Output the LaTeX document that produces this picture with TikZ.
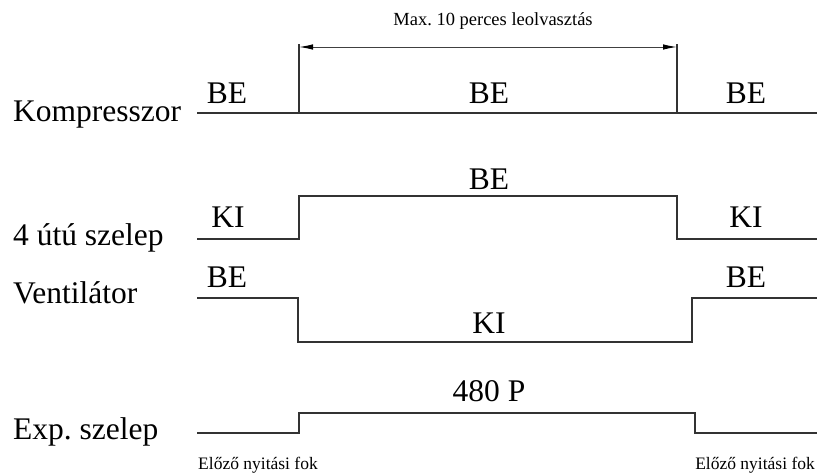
\documentclass[tikz,border=0pt]{standalone}
\usepackage{fontspec}
\setmainfont{Liberation Serif}
\usetikzlibrary{arrows.meta}
\frenchspacing
\begin{document}
\begin{tikzpicture}[x=1pt,y=-1pt,
  sig/.style={line width=1.1pt,black!80},
  lbl/.style={font=\fontsize{31.5}{32}\selectfont,inner sep=0pt,anchor=base},
  sml/.style={font=\fontsize{17.5}{18}\selectfont,inner sep=0pt,anchor=base}]
\useasboundingbox (0,0) rectangle (826,474);

\node[sml,font=\fontsize{18.5}{19}\selectfont] (max) at (493,25) {Max. 10 perces leolvasztás};
\coordinate (dl) at (299,47);
\coordinate (dr) at (677,47);
\draw[line width=1pt,black!75,{Latex[length=14pt,width=5.5pt,black]}-{Latex[length=14pt,width=5.5pt,black]}] (dl) -- (dr);

% Kompresszor
\node[lbl,anchor=base west] (komp) at (13,121) {Kompresszor};
\draw[sig] (197,113) -- (817,113);
\draw[sig] (299,44) -- (299,113);
\draw[sig] (677,44) -- (677,113);
\node[lbl] (k1) at (227,103) {BE};
\node[lbl] (k2) at (489,103) {BE};
\node[lbl] (k3) at (746,103) {BE};

% 4 utu szelep
\node[lbl,anchor=base west] (szel) at (13,245) {4 útú szelep};
\draw[sig] (197,239) -- (299,239) -- (299,196) -- (677,196) -- (677,239) -- (817,239);
\node[lbl] (s1) at (228,227) {KI};
\node[lbl] (s2) at (489,189) {BE};
\node[lbl] (s3) at (746,227) {KI};

% Ventilator
\node[lbl,anchor=base west] (vent) at (13,303) {Ventilátor};
\draw[sig] (197,298) -- (298,298) -- (298,342) -- (692,342) -- (692,298) -- (817,298);
\node[lbl] (v1) at (227,287) {BE};
\node[lbl] (v2) at (489,333) {KI};
\node[lbl] (v3) at (746,287) {BE};

% Exp. szelep
\node[lbl,anchor=base west] (exp) at (13,439) {Exp. szelep};
\draw[sig] (197,433) -- (299,433) -- (299,413) -- (695,413) -- (695,433) -- (817,433);
\node[lbl] (e1) at (489,401) {480 P};
\node[sml,anchor=base west] (e2) at (198,469) {Előző nyitási fok};
\node[sml,anchor=base east] (e3) at (815,469) {Előző nyitási fok};
\end{tikzpicture}
\end{document}
